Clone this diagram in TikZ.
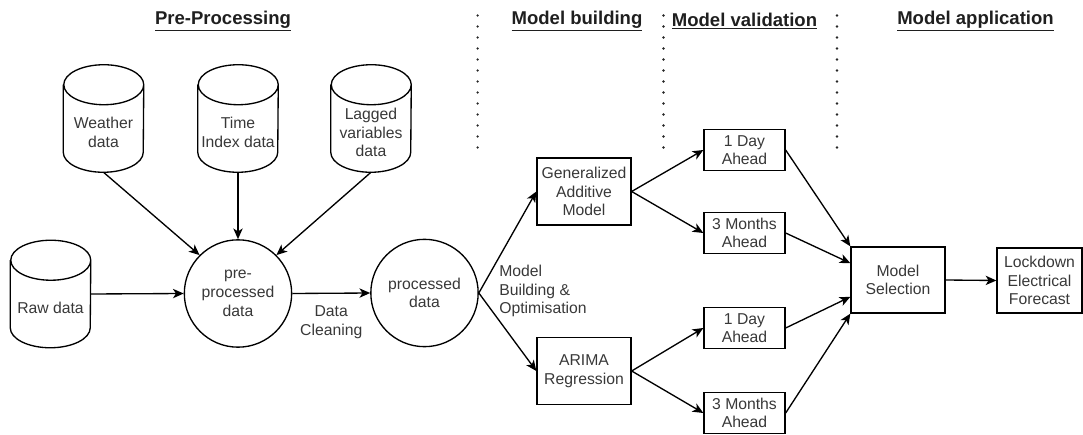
\documentclass[tikz,border=0pt]{standalone}
\usepackage{fontspec}
\setmainfont{Liberation Sans}
\usetikzlibrary{arrows.meta,calc}
\newcommand\mycyl[4]{%
  \node[cylbox] (#1) at (#2,#3) {};
  \draw[line] ([yshift=-15pt]#1.north west) -- ([yshift=15pt]#1.south west)
    arc[start angle=180,end angle=360,x radius=30pt,y radius=15pt]
    -- ([yshift=-15pt]#1.north east)
    arc[start angle=0,end angle=360,x radius=30pt,y radius=15pt];
  \node[txt] (#1-t) at ([yshift=-10.5pt]#1.center) {#4};
}
\begin{document}
\begin{tikzpicture}[x=0.75pt,y=-0.75pt,
  line/.style={line width=1pt,draw=black},
  arr/.style={line,-{Stealth[length=8pt,width=7pt,inset=2.2pt]}},
  txt/.style={font=\fontsize{11.8pt}{14pt}\selectfont,text=black!78,align=center,inner sep=0pt},
  smallbox/.style={txt,draw=black,line width=1pt,minimum width=60.75pt,minimum height=30.75pt},
  bigbox/.style={txt,draw=black,line width=1pt,minimum width=70.5pt,minimum height=50.25pt},
  circ/.style={txt,draw=black,line width=1pt,circle,minimum size=80.5pt},
  cylbox/.style={minimum width=60pt,minimum height=80.25pt,inner sep=0pt},
  title/.style={font=\fontsize{13.9pt}{16pt}\selectfont\bfseries,text=black!88,inner sep=0pt},
  sep/.style={line width=1.9pt,line cap=round,dash pattern=on 0pt off 8.25pt,draw=black!85}]
\useasboundingbox (0,0) rectangle (1083,435);

% titles
\node[title] (t1) at (223,21) {\underline{Pre-Processing}};
\node[title] (t2) at (577,21) {\underline{Model building}};
\node[title] (t3) at (744.5,21) {\underline{Model validation}};
\node[title] (t4) at (975.5,21) {\underline{Model application}};

% separators
\draw[sep] (477.6,15.5) -- (477.6,148);
\draw[sep] (663.5,15.5) -- (663.5,148);
\draw[sep] (837,15.5) -- (837,148);

% data sources
\mycyl{w}{103.5}{118.5}{Weather\\data}
\mycyl{ti}{238}{118.5}{Time\\Index data}
\mycyl{lg}{371}{118.5}{Lagged\\variables\\data}
\mycyl{raw}{50.5}{294}{Raw data}

% circles
\node[circ] (pre) at (238,293.5) {pre-\\processed\\data};
\node[circ] (proc) at (424.5,293) {processed\\data};

% models
\node[bigbox] (gam) at (584,191.5) {Generalized\\Additive\\Model};
\node[bigbox] (arima) at (584,371) {ARIMA\\Regression};

% validation
\node[smallbox] (d1u) at (744.5,150) {1 Day\\Ahead};
\node[smallbox] (m3u) at (744.5,233) {3 Months\\Ahead};
\node[smallbox] (d1l) at (744.5,328) {1 Day\\Ahead};
\node[smallbox] (m3l) at (744.5,413) {3 Months\\Ahead};

% application
\node[txt,draw=black,line width=1pt,minimum width=70.5pt,minimum height=49.5pt] (ms) at (898,280) {Model\\Selection};
\node[txt,draw=black,line width=1pt,minimum width=63.75pt,minimum height=48.75pt] (lock) at (1039.5,280.5) {Lockdown\\Electrical\\Forecast};

% connectors
\draw[arr] (w.south) -- (pre.135);
\draw[arr] (ti.south) -- (pre.north);
\draw[arr] (lg.south) -- (pre.45);
\draw[arr] (raw.east) -- (pre.west);
\draw[arr] (pre.east) -- node[txt,anchor=north,pos=0.5,yshift=-9pt] (dc) {Data\\Cleaning} (proc.west);
\draw[arr] (proc.east) -- (gam.west);
\draw[arr] (proc.east) -- (arima.west);
\node[txt,align=left,anchor=west] (mbo) at (499,291) {Model\\Building \&\\Optimisation};
\draw[arr] (gam.east) -- (d1u.west);
\draw[arr] (gam.east) -- (m3u.west);
\draw[arr] (arima.east) -- (d1l.west);
\draw[arr] (arima.east) -- (m3l.west);
\draw[arr] (d1u.east) -- (ms.north west);
\draw[arr] (m3u.east) -- ($(ms.north west)!0.25!(ms.south west)$);
\draw[arr] (d1l.east) -- ($(ms.north west)!0.75!(ms.south west)$);
\draw[arr] (m3l.east) -- (ms.south west);
\draw[arr] (ms.east) -- (lock.west);
\end{tikzpicture}
\end{document}
